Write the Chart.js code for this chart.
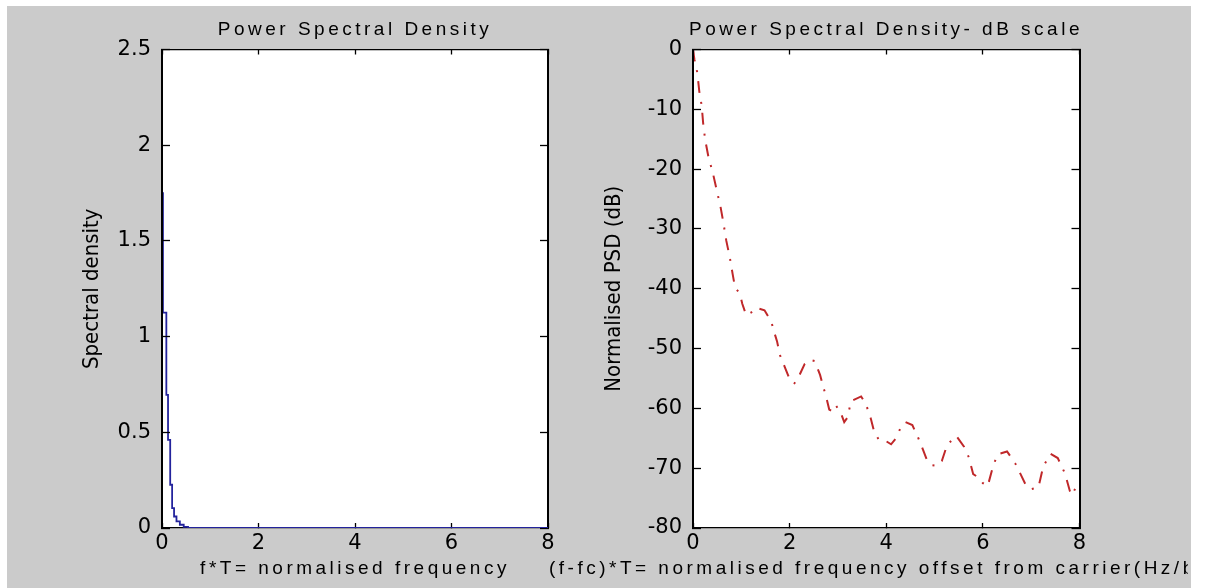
<!DOCTYPE html>
<html><head><meta charset="utf-8">
<script src="https://cdn.jsdelivr.net/npm/chart.js@4.4.1/dist/chart.umd.min.js"></script>
<style>
html,body{margin:0;padding:0;background:#fff;width:1207px;height:588px;overflow:hidden;position:relative;}
#fig{position:absolute;left:7px;top:6px;width:1184px;height:582px;background:#cbcbcb;}
#c1{position:absolute;left:0;top:0;}
#wrap2{position:absolute;left:520px;top:0;width:668px;height:588px;overflow:hidden;}
#c2{position:absolute;left:0;top:0;}
</style></head><body>
<div id="fig"></div>
<canvas id="c1" width="710" height="588" style="width:710px;height:588px"></canvas>
<div id="wrap2"><canvas id="c2" width="732" height="588" style="width:732px;height:588px"></canvas></div>
<script>
// ---- data ----
const psdFreq  = [0, 0.02, 0.09, 0.125, 0.17, 0.21, 0.25, 0.3, 0.37, 0.45, 0.54, 0.7, 1, 2, 3, 4, 5, 6, 7, 8];
const psdValue = [2.07, 1.75, 1.125, 0.696, 0.46, 0.226, 0.104, 0.06, 0.035, 0.017, 0.006, 0, 0, 0, 0, 0, 0, 0, 0, 0];

const dbFreq = [0, 0.03, 0.09, 0.13, 0.18, 0.21, 0.25, 0.32, 0.41, 0.49, 0.57, 0.63, 0.69, 0.76, 0.82, 0.87, 0.97, 1.02,
  1.1, 1.2, 1.31, 1.48, 1.62, 1.69, 1.74, 1.8, 1.9, 2.02, 2.1, 2.2, 2.31, 2.42, 2.52, 2.63, 2.7, 2.76, 2.82, 2.88, 2.96,
  3.07, 3.13, 3.2, 3.27, 3.48, 3.58, 3.68, 3.75, 3.85, 4.0, 4.1, 4.2, 4.3, 4.4, 4.54, 4.65, 4.75, 4.85, 4.95, 5.05, 5.15,
  5.26, 5.45, 5.61, 5.71, 5.8, 5.9, 6.0, 6.1, 6.2, 6.3, 6.5, 6.67, 6.78, 6.9, 7.0, 7.15, 7.25, 7.4, 7.55, 7.7, 7.8, 7.85, 7.95, 8.0];
const dbValue = [0, -1.7, -3.9, -7, -9.4, -12.3, -15, -18, -20.6, -23.5, -26.3, -29, -32, -34.7, -37.5, -39.8, -40.8, -42.5,
  -44.4, -44.0, -43.2, -43.6, -45.5, -47.5, -48.8, -51.1, -53.1, -55.5, -55.8, -54.5, -52.6, -51.9, -52.1, -54.4, -56.5, -58.2, -60.2, -60.5, -59.5,
  -61, -62.3, -61.5, -58.8, -58, -59.3, -61.7, -63.9, -65.3, -65.5, -66, -65, -63.2, -62.3, -62.8, -64.7, -66.7, -68.8, -69.5, -69.6, -68.8,
  -66.1, -64.6, -66.4, -68.2, -71, -71.5, -72.5, -73, -70, -67.7, -67.2, -69.2, -71, -73, -73.5, -73.2, -69.7, -67.6, -68.3, -70.9, -73.8, -74.5, -72.7, -72.5];

const freqTicks = [0, 2, 4, 6, 8];
const psdTicks  = [0, 0.5, 1, 1.5, 2, 2.5];
const dbTicks   = [-80, -70, -60, -50, -40, -30, -20, -10, 0];

const titles = {
  left:  'Power Spectral Density',
  right: 'Power Spectral Density- dB scale',
  leftX: 'f*T= normalised frequency',
  rightX: '(f-fc)*T= normalised frequency offset from carrier(Hz/bit)',
  leftY: 'Spectral density',
  rightY: 'Normalised PSD (dB)'
};

// ---- styling ----
const FAM = "'Liberation Sans', Arial, Helvetica, sans-serif";
const NARROW = "'Liberation Sans Narrow', 'Arial Narrow', 'DejaVu Sans Condensed', 'Liberation Sans', sans-serif";
const textFont = {family: FAM, size: 19, weight: 'normal'};
const tickFont = {family: "'DejaVu Sans', 'Liberation Sans', sans-serif", size: 21, weight: 'normal'};
const yTitleFont = {family: NARROW, size: 22, weight: 'normal'};
const LS = '3.5px';

const figPlugin = {
  id: 'figPlugin',
  beforeDraw(chart) {
    const {ctx, chartArea: a} = chart;
    ctx.save();
    ctx.fillStyle = '#ffffff';
    ctx.fillRect(a.left, a.top, a.right - a.left, a.bottom - a.top);
    ctx.restore();
    ctx.letterSpacing = LS;
  },
  afterDatasetsDraw(chart) { chart.ctx.letterSpacing = '0px'; },
  afterDraw(chart) { chart.ctx.letterSpacing = '0px'; }
};

function tickSetter(arr) {
  return (s) => { s.ticks = arr.map(v => ({value: v})); };
}
const plainLabel = (v) => String(v);

function makeScales(yMin, yMax, yTickArr, yTitle, yTitlePad, leftW, rightW) {
  const xGrid = {drawOnChartArea: false, drawTicks: true, tickLength: -5, tickColor: '#000', tickWidth: 1.3};
  const yGrid = {drawOnChartArea: false, drawTicks: true, tickLength: -8, tickColor: '#000', tickWidth: 1.3};
  return {
    x: {
      type: 'linear', position: 'bottom', min: 0, max: 8,
      afterBuildTicks: tickSetter(freqTicks),
      ticks: {font: tickFont, color: '#000', padding: 8, maxRotation: 0, autoSkip: false, z: 1, callback: plainLabel},
      grid: xGrid,
      border: {display: true, color: '#000', width: 1.3},
      afterFit: (s) => { s.height = 29.6; }
    },
    x2: {
      type: 'linear', position: 'top', min: 0, max: 8, display: true,
      afterBuildTicks: tickSetter(freqTicks),
      ticks: {display: false},
      grid: xGrid,
      border: {display: true, color: '#000', width: 1.3},
      afterFit: (s) => { s.height = 0; }
    },
    y: {
      type: 'linear', position: 'left', min: yMin, max: yMax,
      afterBuildTicks: tickSetter(yTickArr),
      ticks: {font: tickFont, color: '#000', padding: 19, autoSkip: false, z: 1, callback: plainLabel},
      grid: Object.assign({z: 1}, yGrid),
      border: {display: true, color: '#000', width: 2, z: 2},
      title: {display: true, text: yTitle, font: yTitleFont, color: '#000', padding: {top: yTitlePad, bottom: 0}},
      afterFit: (s) => { s.width = leftW; }
    },
    y2: {
      type: 'linear', position: 'right', min: yMin, max: yMax, display: true,
      afterBuildTicks: tickSetter(yTickArr),
      ticks: {display: false},
      grid: yGrid,
      border: {display: true, color: '#000', width: 2},
      afterFit: (s) => { s.width = rightW; }
    }
  };
}

function commonPlugins(title, xLabel) {
  return {
    legend: {display: false},
    tooltip: {enabled: false},
    title: {display: true, text: title, font: textFont, color: '#000', padding: {top: 18, bottom: 8.7}},
    subtitle: {display: true, position: 'bottom', text: xLabel, font: textFont, color: '#000', padding: {top: 0, bottom: 7.6}}
  };
}

new Chart(document.getElementById('c1'), {
  type: 'scatter',
  data: {
    datasets: [{
      data: psdFreq.map((f, i) => ({x: f, y: psdValue[i]})),
      showLine: true, stepped: 'after', borderColor: '#23239c', borderWidth: 1.8,
      pointRadius: 0, fill: false
    }]
  },
  options: {
    responsive: false, animation: false, devicePixelRatio: 1,
    layout: {padding: 0},
    scales: makeScales(0, 2.5, psdTicks, titles.leftY, 79, 162, 162),
    plugins: commonPlugins(titles.left, titles.leftX)
  },
  plugins: [figPlugin]
});

new Chart(document.getElementById('c2'), {
  type: 'scatter',
  data: {
    datasets: [{
      data: dbFreq.map((f, i) => ({x: f, y: dbValue[i]})),
      showLine: true, borderColor: '#c0282a', borderWidth: 2, borderDash: [12, 9, 2, 9],
      pointRadius: 0, fill: false, tension: 0
    }]
  },
  options: {
    responsive: false, animation: false, devicePixelRatio: 1,
    layout: {padding: 0},
    scales: makeScales(-80, 0, dbTicks, titles.rightY, 81, 173, 172.5),
    plugins: commonPlugins(titles.right, titles.rightX)
  },
  plugins: [figPlugin]
});
</script>
</body></html>
